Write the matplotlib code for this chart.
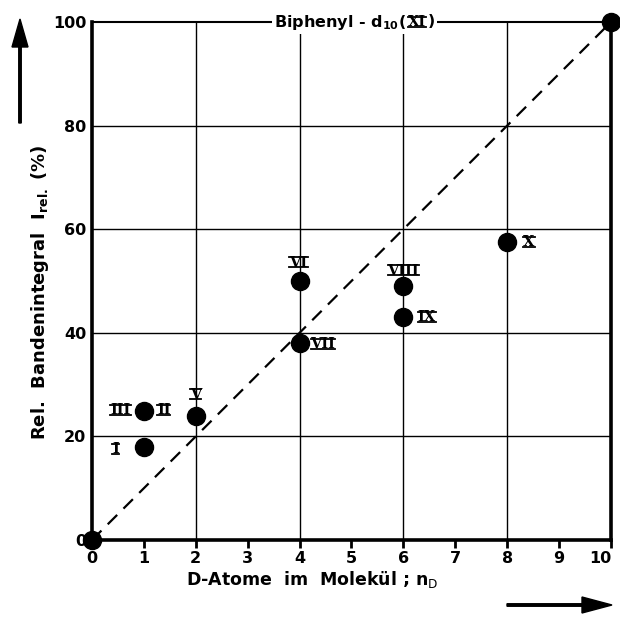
import matplotlib
matplotlib.use("Agg")
import matplotlib.pyplot as plt
from matplotlib.lines import Line2D

# Data
x_vals = [0, 1, 1, 2, 4, 4, 6, 6, 8, 10]
y_vals = [0, 18, 25, 24, 50, 38, 49, 43, 57.5, 100]
x_ticks = [0, 1, 2, 3, 4, 5, 6, 7, 8, 9, 10]
y_ticks = [0, 20, 40, 60, 80, 100]
line_x = [0, 10]
line_y = [0, 100]

# Roman numeral labels: (text, x, y)
roman_labels = [
    ("I", 0.45, 17.5),
    ("III", 0.55, 25),
    ("II", 1.38, 25),
    ("V", 2.0, 28),
    ("VI", 3.98, 53.5),
    ("VII", 4.45, 37.8),
    ("VIII", 6.0, 52),
    ("IX", 6.45, 43),
    ("X", 8.42, 57.5),
]

W, H = 620, 621
fig = plt.figure(figsize=(W / 100, H / 100), dpi=100)
left, right, top, bottom = 92, 611, 22, 540
ax = fig.add_axes([left / W, 1 - bottom / H, (right - left) / W, (bottom - top) / H])

ax.set_xlim(0, 10)
ax.set_ylim(0, 100)

# grid
for gx in [2, 4, 6, 8]:
    ax.axvline(gx, color="black", lw=1.0, zorder=1)
for gy in [20, 40, 60, 80]:
    ax.axhline(gy, color="black", lw=1.0, zorder=1)

ax.plot(line_x, line_y, color="black", lw=1.6, dashes=(6, 4), zorder=2)
ax.plot(x_vals, y_vals, "o", color="black", markersize=13, zorder=4, clip_on=False)

for s in ["left", "bottom", "right"]:
    ax.spines[s].set_linewidth(2.6)
ax.spines["top"].set_linewidth(1.5)

ax.set_xticks(x_ticks)
ax.set_yticks(y_ticks)
ax.tick_params(axis="x", direction="out", length=6, width=2, pad=2)
ax.tick_params(axis="y", length=0, pad=4)
for lab in ax.get_xticklabels() + ax.get_yticklabels():
    lab.set_fontweight("bold")
    lab.set_fontsize(11.5)
    lab.set_family("DejaVu Sans")
ax.get_xticklabels()[-1].set_horizontalalignment("right")
ax.get_xticklabels()[-1].set_x(10.1)

roman_texts = []
for t, x, y in roman_labels:
    tx = ax.text(x, y, t, ha="center", va="center", fontsize=10.5,
                 family="DejaVu Serif", fontweight="bold", zorder=5)
    roman_texts.append(tx)

wb = dict(facecolor="white", edgecolor="none", pad=1.5)
ax.text(6.06, 100, "Biphenyl - d$_{\\mathbf{10}}$(", ha="right", va="center",
        fontsize=11.5, fontweight="bold", family="DejaVu Sans",
        bbox=wb, zorder=5, clip_on=False)
xi = ax.text(6.27, 100, "XI", ha="center", va="center", fontsize=10.5,
             family="DejaVu Serif", fontweight="bold", bbox=wb, zorder=5, clip_on=False)
ax.text(6.47, 100, ")", ha="left", va="center",
        fontsize=11.5, fontweight="bold", family="DejaVu Sans",
        bbox=wb, zorder=5, clip_on=False)
roman_texts.append(xi)

# axis labels
fig.text(40 / W, 1 - 292 / H, "Rel.  Bandenintegral  I$_{\\mathbf{rel.}}$ (%)", rotation=90,
         ha="center", va="center", fontsize=13, fontweight="bold", family="DejaVu Sans")
fig.text(312 / W, 1 - 580 / H, "D-Atome  im  Molekül ; n$_{\\mathrm{D}}$",
         ha="center", va="center", fontsize=12.5, fontweight="bold", family="DejaVu Sans")

# arrows
fig.patches.append(matplotlib.patches.FancyArrow(
    20 / W, 1 - 123 / H, 0, (123 - 19) / H, width=2.5 / H, head_width=16 / W,
    head_length=28 / H, length_includes_head=True, color="black",
    transform=fig.transFigure, figure=fig))
fig.patches.append(matplotlib.patches.FancyArrow(
    507 / W, 1 - 605 / H, (612 - 507) / W, 0, width=2.5 / H, head_width=16 / H,
    head_length=30 / W, length_includes_head=True, color="black",
    transform=fig.transFigure, figure=fig))

# overline / underline decoration for roman numerals
fig.canvas.draw()
renderer = fig.canvas.get_renderer()
inv = fig.transFigure.inverted()

def bar_text(tx):
    bb = tx.get_window_extent(renderer)
    x0, x1 = bb.x0, bb.x1
    for yy in (bb.y1 - 1.5, bb.y0 + 2.5):
        (fx0, fy), (fx1, _) = inv.transform([(x0, yy), (x1, yy)])
        fig.add_artist(Line2D([fx0, fx1], [fy, fy], color="black", lw=1.3,
                              transform=fig.transFigure, zorder=10))

for tx in roman_texts:
    bar_text(tx)

fig.savefig("out.png", dpi=100)
